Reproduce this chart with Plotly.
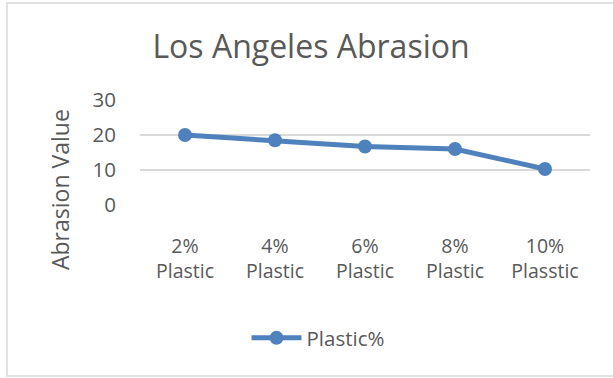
import plotly.graph_objects as go

# Abrasion results per plastic content
categories = ["2%<br>Plastic", "4%<br>Plastic", "6%<br>Plastic", "8%<br>Plastic", "10%<br>Plasstic"]
abrasion_values = [20.0, 18.5, 16.7, 16.0, 10.3]
y_ticks = [0, 10, 20, 30]

W, H = 613, 378
L, R, T, B = 140, 23, 100, 173
TEXT = "#595959"
BLUE = "#4F81BD"
FONT = "Open Sans"

fig = go.Figure()
fig.add_trace(go.Scatter(
    x=categories,
    y=abrasion_values,
    mode="lines+markers",
    name="Plastic%",
    line=dict(color=BLUE, width=5),
    marker=dict(color=BLUE, size=14),
))

fig.update_layout(
    width=W, height=H,
    margin=dict(l=L, r=R, t=T, b=B, autoexpand=False),
    paper_bgcolor="white",
    plot_bgcolor="white",
    font=dict(family=FONT, color=TEXT),
    title=dict(
        text="Los Angeles Abrasion",
        font=dict(size=32, color=TEXT, family=FONT),
        xref="container", yref="container",
        x=311 / W, y=1 - 47 / H,
        xanchor="center", yanchor="middle",
    ),
    xaxis=dict(
        type="category",
        range=[-0.5, 4.5],
        showgrid=False,
        showline=False,
        ticks="",
        tickfont=dict(size=19.5, color=TEXT),
        ticklabelstandoff=27,
    ),
    yaxis=dict(
        range=[0, 30],
        tickvals=y_ticks,
        showgrid=True,
        gridcolor="#D9D9D9",
        gridwidth=1.5,
        zeroline=False,
        showline=False,
        ticks="",
        tickfont=dict(size=20.5, color=TEXT),
        ticklabelstandoff=23,
    ),
    showlegend=True,
    legend=dict(
        orientation="h",
        xref="container", yref="container",
        x=318 / W, y=1 - 338 / H,
        xanchor="center", yanchor="middle",
        font=dict(size=20.5, color=TEXT),
        itemwidth=50,
    ),
    annotations=[
        dict(
            text="Abrasion Value",
            xref="paper", yref="paper",
            x=(60 - L) / (W - L - R), y=(205 - 190) / (H - T - B),
            showarrow=False, textangle=-90,
            xanchor="center", yanchor="middle",
            font=dict(size=23, color=TEXT, family=FONT),
        )
    ],
    shapes=[
        dict(
            type="rect", xref="paper", yref="paper",
            x0=(7 - L) / (W - L - R), x1=(620 - L) / (W - L - R),
            y0=(H - B - 376) / (H - T - B), y1=(H - B - 3) / (H - T - B),
            line=dict(color="#D9D9D9", width=1.5),
            layer="below",
        )
    ],
)

fig.write_html("out.html")
